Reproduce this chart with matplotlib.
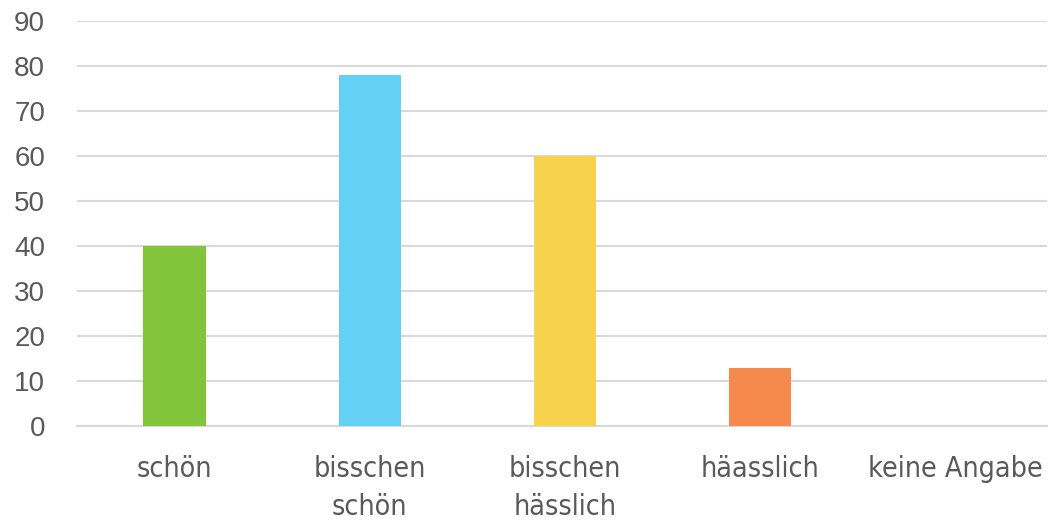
import matplotlib
matplotlib.use("Agg")
import matplotlib.pyplot as plt

categories = ["schön", "bisschen\nschön", "bisschen\nhässlich", "häasslich", "keine Angabe"]
values = [40, 78, 60, 13, 0]
colors = ["#82C43A", "#63D0F4", "#F7D24C", "#F58A4C", "#A0A0A0"]
yticks = [0, 10, 20, 30, 40, 50, 60, 70, 80, 90]

fig = plt.figure(figsize=(10.49, 5.22), dpi=100)
ax = fig.add_axes([77 / 1049, 96 / 522, 970 / 1049, 405 / 522])

x = list(range(len(categories)))
ax.bar(x, values, width=0.32, color=colors, zorder=3)

ax.set_xlim(-0.5, 4.47)
ax.set_ylim(0, 90)
ax.set_yticks(yticks)
ax.set_xticks(x)
# condensed face stands in for the narrow font of the original
ax.set_xticklabels(categories, family=["DejaVu Sans"], stretch="condensed",
                   fontsize=20.5, color="#595959", linespacing=1.45)
for lbl in ax.get_yticklabels():
    lbl.set_family(["Liberation Sans", "DejaVu Sans"])
    lbl.set_fontsize(20)
    lbl.set_color("#595959")

ax.grid(axis="y", color="#D9D9D9", linewidth=1.5, zorder=0)
ax.tick_params(axis="both", length=0)
ax.tick_params(axis="y", pad=23)
ax.tick_params(axis="x", pad=21)
for side in ["top", "right", "left"]:
    ax.spines[side].set_visible(False)
ax.spines["bottom"].set_color("#D9D9D9")
ax.spines["bottom"].set_linewidth(1.5)

fig.savefig("out.png", dpi=100)
